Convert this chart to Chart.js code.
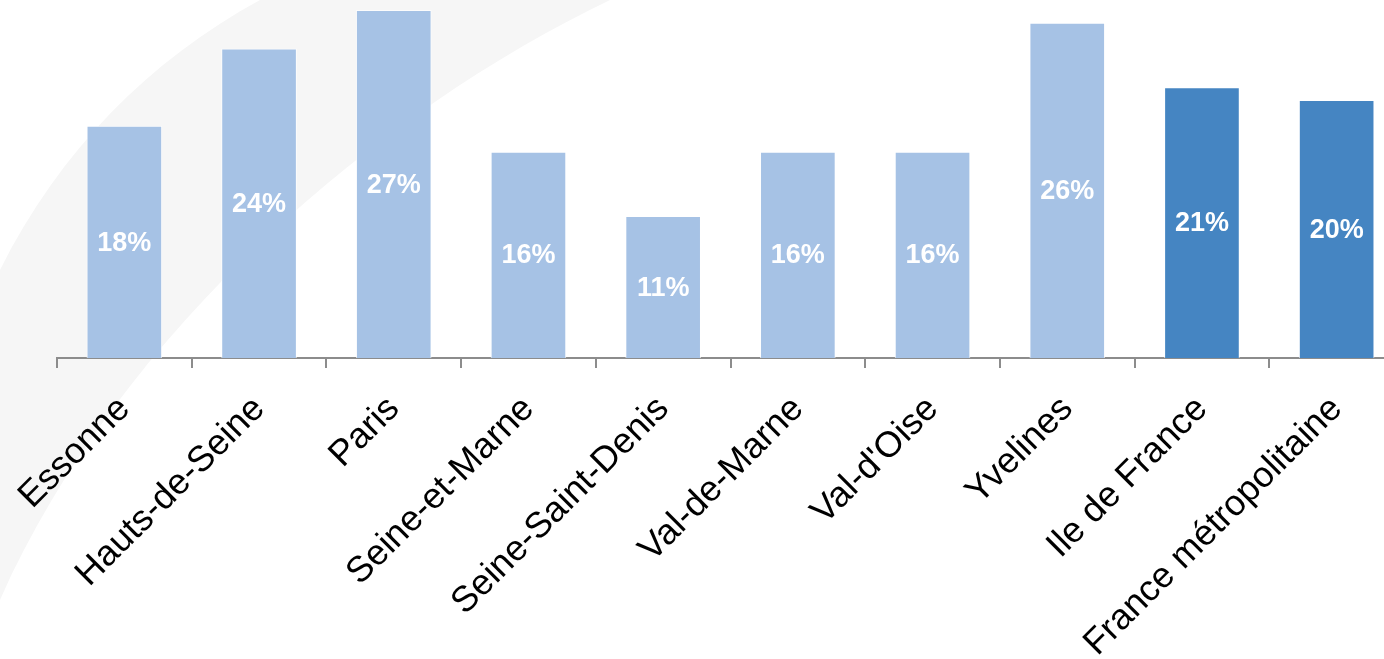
<!DOCTYPE html>
<html>
<head>
<meta charset="utf-8">
<script src="https://cdn.jsdelivr.net/npm/chart.js@4"></script>
<style>
  html, body { margin: 0; padding: 0; background: #fff; overflow: hidden; }
  #wrap { width: 1384px; height: 659px; overflow: hidden; position: relative; }
  #chart { position: absolute; left: 0; top: 0; }
</style>
</head>
<body>
<div id="wrap"><canvas id="chart" width="1410" height="659"></canvas></div>
<script>
// categories and values
const departements = ['Essonne', 'Hauts-de-Seine', 'Paris', 'Seine-et-Marne', 'Seine-Saint-Denis',
                      'Val-de-Marne', "Val-d'Oise", 'Yvelines', 'Ile de France', 'France métropolitaine'];
const parts = [18, 24, 27, 16, 11, 16, 16, 26, 21, 20];
const valueLabels = ['18%', '24%', '27%', '16%', '11%', '16%', '16%', '26%', '21%', '20%'];

const light = '#A6C2E5';
const dark = '#4585C2';
var colors = departements.map(function(d, i){ return i >= 8 ? dark : light; });

// very faint swoosh in the background
const watermark = {
    id: 'watermark',
    beforeDraw: function(chart){
        var c = chart.ctx;
        c.save();
        c.fillStyle = '#f6f6f6';
        c.beginPath();
        c.moveTo(610, 0);
        c.bezierCurveTo(380, 110, 120, 330, 0, 600);
        c.lineTo(0, 270);
        c.bezierCurveTo(60, 150, 150, 60, 260, 0);
        c.closePath();
        c.fill();
        c.restore();
    }
};

// white value labels centred in each bar
const barLabels = {
    id: 'barLabels',
    afterDatasetsDraw: function(chart){
        var c = chart.ctx;
        var meta = chart.getDatasetMeta(0);
        c.save();
        c.fillStyle = '#ffffff';
        c.font = 'bold 27px "Liberation Sans", Arial, sans-serif';
        c.textAlign = 'center';
        c.textBaseline = 'middle';
        meta.data.forEach(function(bar, i){
            c.fillText(valueLabels[i], bar.x, (bar.y + bar.base) / 2 + 1);
        });
        c.restore();
    }
};

var ctx = document.getElementById('chart').getContext('2d');
var chart = new Chart(ctx, {
    type: 'bar',
    data: {
        labels: departements,
        datasets: [{
            data: parts,
            backgroundColor: colors,
            borderColor: 'rgba(255,255,255,0.7)',
            borderWidth: 1,
            barThickness: 75
        }]
    },
    options: {
        responsive: false,
        animation: false,
        layout: { padding: { left: 57, right: 6, top: 0, bottom: 0 } },
        plugins: {
            legend: { display: false },
            tooltip: { enabled: false }
        },
        scales: {
            x: {
                offset: true,
                grid: {
                    offset: true,
                    drawOnChartArea: false,
                    drawTicks: true,
                    tickLength: 10,
                    color: '#8c8c8c',
                    lineWidth: 2
                },
                border: { display: true, color: '#8c8c8c', width: 2 },
                ticks: {
                    color: '#000000',
                    font: { family: '"Liberation Sans", Arial, sans-serif', size: 36 },
                    minRotation: 45,
                    maxRotation: 45,
                    autoSkip: false,
                    padding: 20
                },
                afterFit: function(scale){ scale.height = 301; }
            },
            y: {
                display: false,
                min: 0,
                max: 27.8
            }
        }
    },
    plugins: [watermark, barLabels]
});
</script>
</body>
</html>
